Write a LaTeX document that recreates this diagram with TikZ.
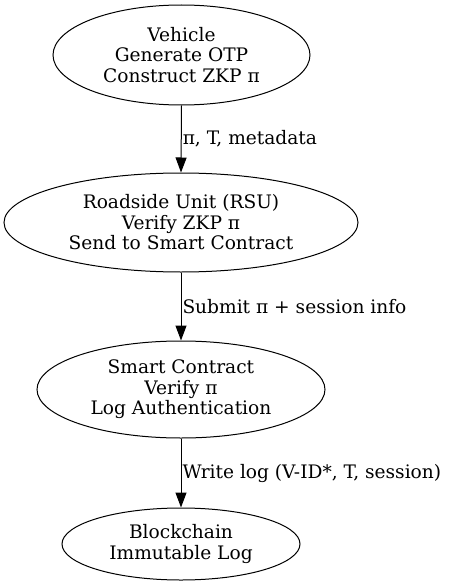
\documentclass[tikz,border=0pt]{standalone}
\usepackage{fontspec}
\setmainfont{DejaVu Serif}
\usetikzlibrary{shapes.geometric,arrows.meta}
\tikzset{
  stage/.style={draw=black, line width=1pt, ellipse, inner sep=0pt, align=center,
    font=\fontsize{18.6}{20.5}\selectfont},
  arr/.style={draw=black, line width=1pt, -{Triangle[length=15pt,width=11pt]}},
  lbl/.style={anchor=west, inner sep=1pt, font=\fontsize{18.6}{20.5}\selectfont}
}
\begin{document}
\begin{tikzpicture}[x=1pt,y=-1pt]
\useasboundingbox (0,0) rectangle (448,586);
\node[stage, minimum width=257pt, minimum height=100pt] (v) at (181.5,55) {Vehicle\\Generate OTP\\Construct ZKP π};
\node[stage, minimum width=354pt, minimum height=99pt] (r) at (181,222.5) {Roadside Unit (RSU)\\Verify ZKP π\\Send to Smart Contract};
\node[stage, minimum width=288pt, minimum height=97pt] (s) at (181,389.5) {Smart Contract\\Verify π\\Log Authentication};
\node[stage, minimum width=238pt, minimum height=72pt] (b) at (181,544) {Blockchain\\Immutable Log};
\draw[arr] (v.south) -- (r.north) node[lbl, midway] (l1) {π, T, metadata};
\draw[arr] (r.south) -- (s.north) node[lbl, midway] (l2) {Submit π + session info};
\draw[arr] (s.south) -- (b.north) node[lbl, midway] (l3) {Write log (V-ID*, T, session)};
\end{tikzpicture}
\end{document}
